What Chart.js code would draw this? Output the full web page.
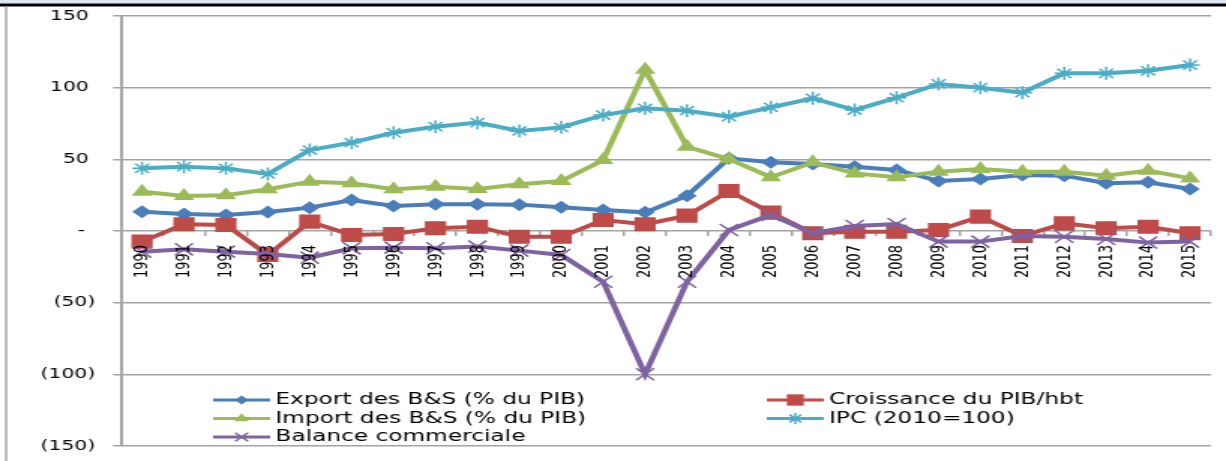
<!DOCTYPE html>
<html>
<head>
<meta charset="utf-8">
<script src="https://cdn.jsdelivr.net/npm/chart.js@4.4.1/dist/chart.umd.min.js"></script>
<style>
  html, body { margin: 0; padding: 0; background: #fff; overflow: hidden; }
  /* the sheet is drawn narrow and stretched sideways, like the exported workbook image */
  #c { display: block; transform-origin: 0 0; transform: scaleX(1.5006); }
</style>
</head>
<body>
<canvas id="c" width="817" height="461"></canvas>
<script>
var years = ['1990','1991','1992','1993','1994','1995','1996','1997','1998','1999','2000','2001','2002',
             '2003','2004','2005','2006','2007','2008','2009','2010','2011','2012','2013','2014','2015'];

var exportBS = [13.5, 11.9, 11.2, 13.3, 16.3, 21.6, 17.4, 18.6, 18.6, 18.4, 16.5, 14.7, 13.0,
                24.6, 50.7, 47.9, 46.7, 44.9, 42.6, 34.9, 36.3, 39.1, 38.6, 33.3, 34.0, 29.3];
var croissance = [-7.4, 4.7, 4.2, -16.7, 6.5, -2.8, -2.1, 1.9, 3.0, -4.0, -4.0, 7.7, 4.7,
                  10.7, 27.9, 12.8, -1.6, -0.5, -0.5, 0.7, 10.0, -3.5, 5.3, 1.9, 3.0, -1.6];
var importBS = [27.4, 24.4, 24.9, 29.1, 34.4, 33.3, 29.1, 30.9, 29.3, 32.6, 34.9, 49.5, 112.5,
                58.8, 50.2, 37.5, 47.9, 40.2, 37.5, 41.4, 43.3, 41.4, 41.4, 38.6, 42.1, 36.7];
var ipc = [43.7, 44.9, 43.7, 39.8, 56.5, 61.6, 68.6, 72.8, 75.6, 69.8, 72.3, 80.9, 85.6,
           83.9, 79.8, 86.3, 92.6, 84.4, 93.0, 102.6, 100.0, 96.5, 110.0, 110.0, 111.8, 115.8];
var balance = [-14.4, -12.8, -14.4, -16.0, -18.6, -12.1, -11.6, -12.1, -10.9, -13.7, -16.7, -35.4, -100.0,
               -35.4, 0.7, 11.2, -1.6, 3.5, 4.9, -7.4, -7.4, -3.5, -4.0, -5.6, -8.1, -7.4];

var seriesNames = ['Export des B&S (% du PIB)', 'Croissance du PIB/hbt', 'Import des B&S (% du PIB)',
                   'IPC (2010=100)', 'Balance commerciale'];
var yTicks = [-150, -100, -50, 0, 50, 100, 150];

var GRID = '#a3a3a3';
var FONT = 'DejaVu Sans, Verdana, sans-serif';

function serie(label, data, color, style, radius, order, legendRadius) {
  var filled = (style !== 'star' && style !== 'crossRot');
  return {
    label: label,
    data: data,
    borderColor: color,
    backgroundColor: color,
    borderWidth: 4,
    tension: 0,
    pointStyle: style,
    pointRadius: radius,
    pointBorderWidth: filled ? 0 : 1.5,
    pointBackgroundColor: color,
    pointBorderColor: color,
    order: order,
    legendRadius: legendRadius
  };
}

// frame lines around the sheet + white background
var framePlugin = {
  id: 'frame',
  beforeDraw: function(chart) {
    var ctx = chart.ctx;
    ctx.save();
    ctx.fillStyle = '#fff';
    ctx.fillRect(0, 0, chart.width, chart.height);
    ctx.fillStyle = '#dce6f2';
    ctx.fillRect(0, 0, chart.width, 3.5);
    ctx.fillStyle = '#000';
    ctx.fillRect(0, 3.5, chart.width, 3);
    ctx.fillStyle = '#9a9a9a';
    ctx.fillRect(3.4, 6.5, 1.3, chart.height);
    ctx.restore();
  }
};

// two-column legend laid over the bottom of the plot
var legendPlugin = {
  id: 'colLegend',
  afterDraw: function(chart) {
    var ctx = chart.ctx;
    var colX = [142, 511];
    var rowY = [400, 418.5, 437];
    ctx.save();
    ctx.font = '15.5px ' + FONT;
    ctx.textBaseline = 'middle';
    chart.data.datasets.forEach(function(ds, i) {
      var x = colX[i % 2];
      var y = rowY[Math.floor(i / 2)];
      ctx.strokeStyle = ds.borderColor;
      ctx.lineWidth = 3;
      ctx.beginPath();
      ctx.moveTo(x, y);
      ctx.lineTo(x + 38, y);
      ctx.stroke();
      ctx.fillStyle = ds.borderColor;
      ctx.lineWidth = ds.pointBorderWidth || 1;
      Chart.helpers.drawPoint(ctx, { pointStyle: ds.pointStyle, radius: ds.legendRadius,
                                     borderWidth: ds.pointBorderWidth, rotation: 0 }, x + 19, y);
      ctx.fillStyle = '#000';
      ctx.fillText(ds.label, x + 41.5, y);
    });
    ctx.restore();
  }
};

var chart = new Chart(document.getElementById('c'), {
  type: 'line',
  data: {
    labels: years,
    datasets: [
      serie(seriesNames[0], exportBS, '#4a7ebb', 'rectRot', 6.5, 4, 4.5),
      serie(seriesNames[1], croissance, '#be4b48', 'rect', 10, 3, 8),
      serie(seriesNames[2], importBS, '#9bbb59', 'triangle', 8, 2, 5.5),
      serie(seriesNames[3], ipc, '#4bacc6', 'star', 6.5, 1, 5.5),
      serie(seriesNames[4], balance, '#7f62a1', 'crossRot', 8.5, 0, 6)
    ]
  },
  options: {
    responsive: false,
    animation: false,
    devicePixelRatio: 1,
    layout: { padding: { left: 0, right: 1.3, top: 16, bottom: 15 } },
    plugins: { legend: { display: false }, tooltip: { enabled: false } },
    scales: {
      x: {
        type: 'category',
        position: { y: 0 },   // category axis crosses at zero
        offset: true,
        afterFit: function(scale) { scale.paddingLeft = 0; scale.paddingRight = 0; },
        grid: { offset: true, drawOnChartArea: false, tickLength: 5, color: GRID, lineWidth: 1.5 },
        border: { display: false },
        ticks: {
          autoSkip: false, minRotation: 90, maxRotation: 90, padding: 9,
          color: '#000', font: { family: FONT, size: 13 }, z: 1
        }
      },
      y: {
        min: -150,
        max: 150,
        afterBuildTicks: function(scale) {
          scale.ticks = yTicks.map(function(v) { return { value: v }; });
        },
        afterFit: function(scale) {
          scale.width = 80.7;
          scale.paddingTop = 0;
          scale.paddingBottom = 0;
        },
        grid: { color: GRID, lineWidth: 1.5, tickLength: 5.3 },
        border: { color: GRID, width: 2 },
        ticks: {
          padding: 12,
          color: '#000',
          font: { family: FONT, size: 13.5 },
          callback: function(v) {
            if (v > 0) return v + ' ';
            if (v < 0) return '(' + (-v) + ')';
            return '-\u2002';
          }
        }
      }
    }
  },
  plugins: [framePlugin, legendPlugin]
});
</script>
</body>
</html>
